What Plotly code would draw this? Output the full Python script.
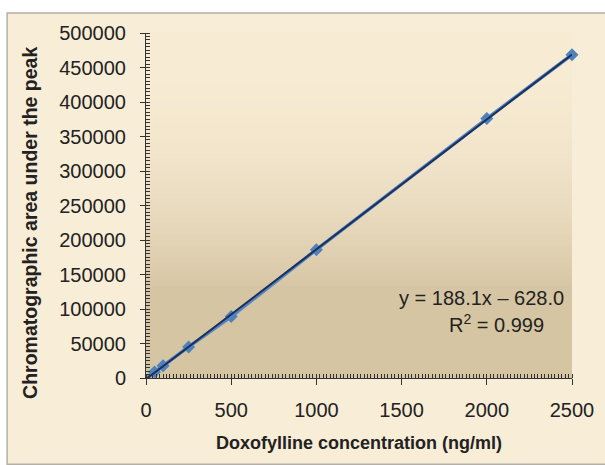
import numpy as np
import plotly.graph_objects as go

# Data
conc = [0, 50, 100, 250, 500, 1000, 2000, 2500]
area = [-600, 8700, 17800, 45000, 89000, 186000, 376000, 468500]
x_ticks = [0, 500, 1000, 1500, 2000, 2500]
y_ticks = [0, 50000, 100000, 150000, 200000, 250000, 300000, 350000, 400000, 450000, 500000]
y_labels = [str(v) for v in y_ticks]
eq_text = "y = 188.1x \u2013 628.0"
r2_text = "R<sup>2</sup> = 0.999"
y_title = "<b>Chromatographic area under the peak</b>"
x_title = "<b>Doxofylline concentration (ng/ml)</b>"

# Linear trendline fitted from the data
slope, intercept = np.polyfit(conc, area, 1)
tx = [0, 2500]
ty = [slope * v + intercept for v in tx]

fig = go.Figure()
fig.add_trace(go.Scatter(x=conc, y=area, mode="lines+markers",
                         line=dict(color="#5585C4", width=3.5),
                         marker=dict(symbol="diamond", size=10, color="#4F81BD"),
                         showlegend=False, cliponaxis=False))
fig.add_trace(go.Scatter(x=tx, y=ty, mode="lines",
                         line=dict(color="#1B2F57", width=2),
                         showlegend=False, cliponaxis=False))

shapes = []
# outer chart box
shapes.append(dict(type="rect", xref="paper", yref="paper",
                   x0=-0.326, x1=1.2, y0=-0.25, y1=1.058,
                   fillcolor="#F8EDD7", line=dict(color="#B4B0A8", width=1.5),
                   layer="below"))
# plot area vertical gradient
top = np.array([0xF8, 0xEC, 0xD4])
bot = np.array([0xD6, 0xC5, 0xA3])
n = 60
for i in range(n):
    t = (i + 0.5) / n  # 0 bottom -> 1 top
    s = min(1.0, max(0.0, (1 - t) / 0.75))
    s = s ** 2.2
    c = top + (bot - top) * s
    shapes.append(dict(type="rect", xref="paper", yref="paper",
                       x0=0, x1=1, y0=i / n, y1=(i + 1) / n + 0.002,
                       fillcolor="rgb(%d,%d,%d)" % tuple(c.astype(int)),
                       line=dict(width=0), layer="below"))

fig.update_layout(
    width=605, height=465,
    margin=dict(l=146, r=33, t=33, b=87),
    paper_bgcolor="white",
    plot_bgcolor="rgba(0,0,0,0)",
    shapes=shapes,
    font=dict(family="Liberation Sans, Arial, sans-serif", color="#222222"),
    annotations=[
        dict(x=2465, y=115900, xref="x", yref="y", text=eq_text, showarrow=False,
             xanchor="right", yanchor="middle", font=dict(size=20, color="#222222")),
        dict(x=2345, y=79000, xref="x", yref="y", text=r2_text, showarrow=False,
             xanchor="right", yanchor="middle", font=dict(size=20, color="#222222")),
        dict(x=-0.272, y=0.45, xref="paper", yref="paper", text=y_title, textangle=-90,
             showarrow=False, xanchor="center", yanchor="middle",
             font=dict(size=19.5, color="#222222")),
    ],
)
fig.update_xaxes(range=[0, 2500], tickvals=x_ticks, ticktext=[str(v) for v in x_ticks],
                 ticks="outside", ticklen=6, ticklabelstandoff=8,
                 tickcolor="#333333", showline=True, linecolor="#333333", linewidth=1,
                 showgrid=False, zeroline=False, tickfont=dict(size=20),
                 minor=dict(dtick=20, tick0=0, ticks="inside", ticklen=4, tickcolor="#333333", showgrid=False),
                 title=dict(text=x_title, font=dict(size=18), standoff=16))
fig.update_yaxes(range=[0, 500000], tickvals=y_ticks, ticktext=y_labels,
                 ticks="outside", ticklen=5, ticklabelstandoff=10,
                 tickcolor="#333333", showline=True, linecolor="#333333", linewidth=1,
                 showgrid=False, zeroline=False, tickfont=dict(size=20),
                 minor=dict(dtick=5000, tick0=0, ticks="inside", ticklen=4, tickcolor="#333333", showgrid=False))

fig.write_html("out.html")
